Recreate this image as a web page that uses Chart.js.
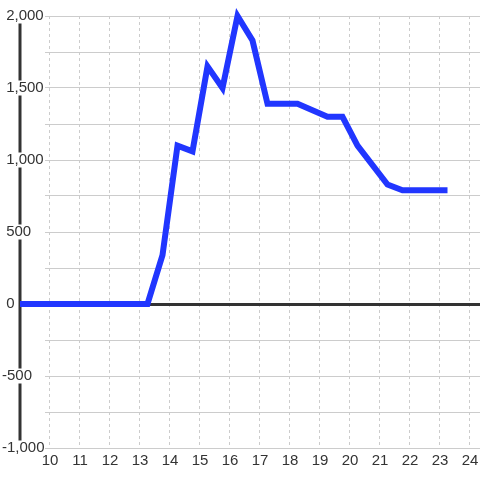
<!DOCTYPE html>
<html>
<head>
<meta charset="utf-8">
<script src="https://cdn.jsdelivr.net/npm/chart.js@4.4.1/dist/chart.umd.min.js"></script>
<style>
  html, body { margin: 0; padding: 0; background: #fff; }
  #wrap { width: 480px; height: 480px; }
</style>
</head>
<body>
<div id="wrap"><canvas id="chart"></canvas></div>
<script>
// data
const xValues = [9, 13.25, 13.75, 14.25, 14.75, 15.25, 15.75, 16.25, 16.75, 17.25, 18.25, 19.25, 19.75, 20.25, 21.25, 21.75, 23.25];
const yValues = [0, 0, 340, 1100, 1060, 1650, 1500, 2000, 1830, 1390, 1390, 1300, 1300, 1100, 830, 790, 790];

// left vertical reference line at x = 9
const refLineX = [9, 9];
const refLineY = [-1000, 2000];

const xMin = 9 + 25 / 30;
const xMax = 9 + 460 / 30;
const yMin = -1000;
const yMax = 2000;

const textColor = '#333';
const gridColor = '#cccccc';

const ctx = document.getElementById('chart').getContext('2d');
new Chart(ctx, {
  type: 'line',
  data: {
    datasets: [
      {
        data: xValues.map((x, i) => ({ x, y: yValues[i] })),
        borderColor: '#2136ff',
        borderWidth: 6,
        pointRadius: 0,
        fill: false,
        tension: 0,
        clip: false
      },
      {
        data: refLineX.map((x, i) => ({ x, y: refLineY[i] })),
        borderColor: textColor,
        borderWidth: 3,
        pointRadius: 0,
        fill: false,
        clip: false
      }
    ]
  },
  options: {
    responsive: true,
    maintainAspectRatio: false,
    animation: false,
    layout: { padding: { top: 16, left: 2, right: 0, bottom: 0 } },
    plugins: {
      legend: { display: false },
      tooltip: { enabled: false }
    },
    scales: {
      x: {
        type: 'linear',
        min: xMin,
        max: xMax,
        afterFit: s => {
          s.height = 32;
          s.paddingLeft = 0;
          s.paddingRight = 0;
        },
        ticks: {
          stepSize: 1,
          includeBounds: false,
          padding: 5,
          color: textColor,
          font: { family: 'Liberation Sans, Arial, sans-serif', size: 15, lineHeight: 1 }
        },
        grid: { color: gridColor, lineWidth: 1, drawTicks: false },
        border: { display: false, dash: [3, 3] }
      },
      y: {
        type: 'linear',
        min: yMin,
        max: yMax,
        afterFit: s => { s.width = 43; },
        ticks: {
          stepSize: 250,
          crossAlign: 'far',
          z: 1,
          color: textColor,
          font: { family: 'Liberation Sans, Arial, sans-serif', size: 15, lineHeight: 1 },
          showLabelBackdrop: true,
          backdropColor: '#ffffff',
          backdropPadding: 0,
          callback: v => {
            if (v % 500 !== 0) return '';
            const s = v.toLocaleString('en-US');
            return v < 0 ? s : ' ' + s;
          }
        },
        grid: {
          drawTicks: false,
          color: c => c.tick.value === 0 ? textColor : gridColor,
          lineWidth: c => c.tick.value === 0 ? 3 : 1
        },
        border: { display: false }
      }
    }
  }
});
</script>
</body>
</html>
